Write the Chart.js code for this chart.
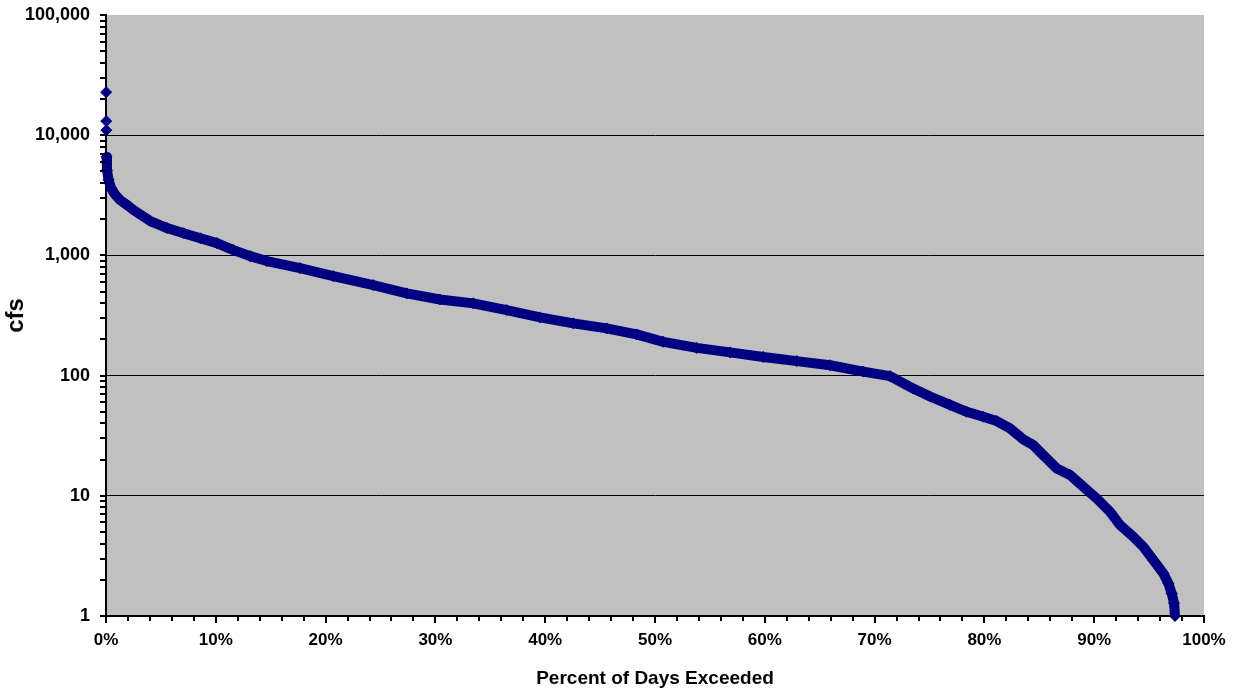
<!DOCTYPE html>
<html>
<head>
<meta charset="utf-8">
<title>Flow Duration Curve</title>
<script src="https://cdn.jsdelivr.net/npm/chart.js@4/dist/chart.umd.min.js"></script>
<style>
  html, body { margin: 0; padding: 0; background: #ffffff; }
  #wrap { width: 1239px; height: 694px; }
</style>
</head>
<body>
<div id="wrap"><canvas id="fdc" width="1239" height="694"></canvas></div>
<script>
// Percent of days a flow is equalled or exceeded
const exceedancePct = [
  0.01, 0.02, 0.03, 0.05, 0.09, 0.23, 0.46, 0.82, 1.28, 2.06,
  2.52, 4.04, 5.56, 7.07, 8.59, 10.10, 11.61, 13.13, 14.64, 17.67,
  20.70, 24.34, 27.39, 30.42, 33.45, 36.49, 39.53, 42.56, 45.60, 48.33,
  50.76, 53.80, 56.83, 59.86, 62.91, 65.94, 68.97, 71.40, 73.52, 75.05,
  76.87, 78.39, 79.90, 81.12, 82.33, 83.54, 84.45, 85.36, 86.58, 87.80,
  89.01, 90.23, 91.44, 92.35, 93.56, 94.47, 95.38, 96.30, 96.75, 97.06,
  97.27, 97.36
];

// Daily mean discharge (cfs) at each exceedance level
const flowCfs = [
  22800, 13100, 11000, 6600, 5120, 4260, 3640, 3220, 2890, 2570,
  2380, 1930, 1690, 1530, 1390, 1265, 1107, 986, 897, 784,
  672, 566, 483, 430, 399, 351, 305, 272, 247, 220,
  191, 170, 156, 143, 132, 122, 108, 99, 78, 67,
  57, 50, 45.4, 41.9, 36.4, 29.5, 26.4, 21.8, 16.9, 14.9,
  11.9, 9.5, 7.37, 5.71, 4.56, 3.77, 2.92, 2.26, 1.87, 1.54,
  1.28, 1.0
];

// The three peak days plot as separate markers, not joined to the curve
const isolatedPeaks = 3;

// Axis tick values and labels
const yMajorTicks = [1, 10, 100, 1000, 10000, 100000];
const yTickLabels = ['1', '10', '100', '1,000', '10,000', '100,000'];
const yMinorSteps = [2, 3, 4, 5, 6, 7, 8, 9];
const xTickLabels = ['0%', '10%', '20%', '30%', '40%', '50%', '60%', '70%', '80%', '90%', '100%'];

const yTicks = [];
yMajorTicks.forEach((m, i) => {
  yTicks.push({ value: m, major: true });
  if (i < yMajorTicks.length - 1) yMinorSteps.forEach(s => yTicks.push({ value: m * s, major: false }));
});

const NAVY = '#000080';
const FONT = "'Liberation Sans', Arial, sans-serif";

// Gray plotting area
const plotBackground = {
  id: 'plotBackground',
  beforeDraw(chart) {
    const { ctx, chartArea: a } = chart;
    ctx.save();
    ctx.fillStyle = '#c0c0c0';
    ctx.fillRect(a.left, a.top, a.right - a.left, a.bottom - a.top);
    ctx.restore();
  }
};

// Outward tick marks: long at every 10 %, short at every 2 %; all decades and sub-decades on y
const tickMarks = {
  id: 'tickMarks',
  afterDraw(chart) {
    const { ctx, chartArea: a, scales: { x, y } } = chart;
    ctx.save();
    ctx.strokeStyle = '#000';
    ctx.lineWidth = 2;
    ctx.beginPath();
    x.ticks.forEach(t => {
      const px = Math.round(x.getPixelForValue(t.value));
      const len = t.value % 10 === 0 ? 7 : 5;
      ctx.moveTo(px, a.bottom);
      ctx.lineTo(px, a.bottom + len);
    });
    y.ticks.forEach(t => {
      const py = Math.round(y.getPixelForValue(t.value));
      ctx.moveTo(a.left, py);
      ctx.lineTo(a.left - 6, py);
    });
    ctx.stroke();
    ctx.restore();
  }
};

new Chart(document.getElementById('fdc'), {
  type: 'scatter',
  data: {
    datasets: [{
      label: 'cfs',
      data: exceedancePct.map((p, i) => ({ x: p, y: flowCfs[i] })),
      showLine: true,
      borderColor: NAVY,
      backgroundColor: NAVY,
      pointBackgroundColor: NAVY,
      pointBorderColor: NAVY,
      borderWidth: 10,
      borderJoinStyle: 'round',
      tension: 0,
      pointStyle: 'rectRot',
      pointRadius: 5.5,
      pointBorderWidth: 1,
      pointHoverRadius: 5.5,
      clip: false,
      segment: {
        borderColor: ctx => (ctx.p0DataIndex < isolatedPeaks ? 'rgba(0,0,0,0)' : undefined)
      }
    }]
  },
  options: {
    responsive: false,
    animation: false,
    layout: { padding: { top: 15, right: 35, bottom: 0, left: 0 } },
    plugins: {
      legend: { display: false },
      tooltip: { enabled: false }
    },
    scales: {
      x: {
        type: 'linear',
        min: 0,
        max: 100,
        grid: { display: true, drawOnChartArea: false, drawTicks: false },
        border: { display: true, color: '#000', width: 2 },
        ticks: {
          stepSize: 2,
          autoSkip: false,
          maxRotation: 0,
          padding: 14,
          color: '#000',
          font: { family: FONT, size: 17, weight: 'bold' },
          callback: v => (v % 10 === 0 ? xTickLabels[v / 10] : '')
        },
        title: {
          display: true,
          text: 'Percent of Days Exceeded',
          color: '#000',
          font: { family: FONT, size: 19, weight: 'bold' },
          padding: { top: 0, bottom: 4 }
        },
        afterFit(scale) {
          scale.height = 78;
          scale.paddingLeft = 0;
          scale.paddingRight = 0;
        }
      },
      y: {
        type: 'logarithmic',
        min: 1,
        max: 100000,
        afterBuildTicks(scale) {
          scale.ticks = yTicks.map(t => ({ value: t.value, major: t.major }));
        },
        grid: {
          drawTicks: false,
          lineWidth: 1,
          color: ctx => {
            const t = ctx.tick;
            if (!t || !t.major) return 'rgba(0,0,0,0)';
            return (t.value === 1 || t.value === 100000) ? 'rgba(0,0,0,0)' : '#000';
          }
        },
        border: { display: true, color: '#000', width: 2 },
        ticks: {
          autoSkip: false,
          padding: 16,
          color: '#000',
          font: { family: FONT, size: 18, weight: 'bold' },
          callback: function (v) {
            const i = yMajorTicks.indexOf(v);
            return i >= 0 ? yTickLabels[i] : '';
          }
        },
        title: {
          display: true,
          text: 'cfs',
          color: '#000',
          font: { family: FONT, size: 24, weight: 'bold' },
          padding: { top: 2, bottom: 0 }
        },
        afterFit(scale) {
          scale.width = 106;
          scale.paddingTop = 0;
          scale.paddingBottom = 0;
        }
      }
    }
  },
  plugins: [plotBackground, tickMarks]
});
</script>
</body>
</html>
